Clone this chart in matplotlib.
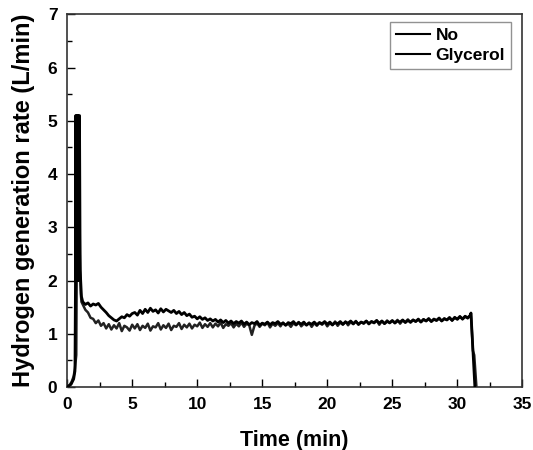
import matplotlib
matplotlib.use("Agg")
import matplotlib.pyplot as plt
from matplotlib.ticker import MultipleLocator

plt.rcParams['font.family'] = ['Liberation Sans', 'DejaVu Sans']

# ---- data ----
t_start_no = [0.0, 0.3, 0.5, 0.6, 0.64, 0.66, 0.70, 0.74, 0.78, 0.82, 0.86, 0.90, 0.95, 1.0, 1.1]
v_start_no = [0.0, 0.05, 0.15, 0.3, 2.0, 5.1, 2.0, 5.1, 2.0, 5.1, 2.0, 5.1, 5.1, 2.2, 1.7]
t_start_gly = [0.0, 0.2, 0.35, 0.5, 0.6, 0.7, 0.75, 0.8, 0.9, 0.98, 1.05, 1.1]
v_start_gly = [0.0, 0.04, 0.1, 0.2, 0.35, 0.6, 3.0, 5.0, 5.0, 2.5, 1.75, 1.6]

t_mid = [round(1.2 + 0.2 * i, 2) for i in range(150)]

v_mid_no = [
    1.60, 1.55, 1.58, 1.52, 1.56, 1.54, 1.57, 1.50, 1.45, 1.40,
    1.34, 1.30, 1.26, 1.24, 1.28, 1.32, 1.30, 1.36, 1.33, 1.38,
    1.40, 1.35, 1.44, 1.38, 1.46, 1.40, 1.48, 1.42, 1.45, 1.39,
    1.47, 1.41, 1.46, 1.43, 1.40, 1.44, 1.38, 1.42, 1.36, 1.40,
    1.34, 1.37, 1.31, 1.33, 1.28, 1.32, 1.27, 1.30, 1.25, 1.28,
    1.24, 1.27, 1.22, 1.26, 1.21, 1.25, 1.20, 1.24, 1.19, 1.23,
    1.20, 1.24, 1.18, 1.22, 1.17, 1.21, 1.19, 1.23, 1.16, 1.20,
    1.18, 1.22, 1.17, 1.21, 1.19, 1.23, 1.18, 1.20, 1.16, 1.21,
    1.19, 1.23, 1.17, 1.21, 1.18, 1.22, 1.16, 1.20, 1.18, 1.22,
    1.17, 1.21, 1.19, 1.23, 1.18, 1.22, 1.17, 1.21, 1.19, 1.23,
    1.18, 1.22, 1.20, 1.24, 1.19, 1.23, 1.18, 1.22, 1.20, 1.24,
    1.19, 1.23, 1.21, 1.25, 1.20, 1.24, 1.19, 1.23, 1.21, 1.25,
    1.20, 1.24, 1.22, 1.26, 1.21, 1.25, 1.22, 1.26, 1.23, 1.27,
    1.22, 1.27, 1.24, 1.28, 1.23, 1.27, 1.25, 1.29, 1.24, 1.28,
    1.26, 1.30, 1.25, 1.31, 1.27, 1.32, 1.28, 1.33, 1.30, 1.35,
]
v_mid_gly = [
    1.55, 1.45, 1.40, 1.30, 1.28, 1.20, 1.25, 1.15, 1.20, 1.10,
    1.18, 1.08, 1.16, 1.10, 1.20, 1.05, 1.15, 1.12, 1.06, 1.17,
    1.10, 1.18, 1.07, 1.15, 1.11, 1.19, 1.06, 1.14, 1.12, 1.20,
    1.08, 1.16, 1.11, 1.19, 1.07, 1.15, 1.13, 1.20, 1.09, 1.17,
    1.12, 1.19, 1.10, 1.17, 1.14, 1.21, 1.11, 1.18, 1.13, 1.20,
    1.12, 1.19, 1.14, 1.21, 1.11, 1.18, 1.15, 1.20, 1.12, 1.19,
    1.14, 1.21, 1.13, 1.19, 1.16, 0.98, 1.15, 1.20, 1.13, 1.19,
    1.16, 1.21, 1.12, 1.19, 1.15, 1.20, 1.14, 1.21, 1.16, 1.19,
    1.13, 1.20, 1.16, 1.22, 1.14, 1.19, 1.17, 1.21, 1.13, 1.20,
    1.15, 1.21, 1.17, 1.22, 1.14, 1.20, 1.16, 1.23, 1.15, 1.21,
    1.17, 1.23, 1.16, 1.22, 1.18, 1.24, 1.17, 1.22, 1.19, 1.24,
    1.18, 1.23, 1.20, 1.25, 1.17, 1.24, 1.19, 1.25, 1.20, 1.24,
    1.21, 1.26, 1.19, 1.25, 1.22, 1.27, 1.21, 1.26, 1.23, 1.28,
    1.22, 1.27, 1.24, 1.29, 1.23, 1.28, 1.25, 1.30, 1.24, 1.29,
    1.26, 1.31, 1.25, 1.30, 1.28, 1.33, 1.27, 1.32, 1.29, 1.34,
]

t_end_no = [31.05, 31.35]
v_end_no = [1.39, 0.0]
t_end_gly = [31.05, 31.2, 31.3, 31.47]
v_end_gly = [1.37, 0.68, 0.6, 0.0]

t_no = t_start_no + t_mid + t_end_no
v_no = v_start_no + v_mid_no + v_end_no
t_gly = t_start_gly + t_mid + t_end_gly
v_gly = v_start_gly + v_mid_gly + v_end_gly

labels = ["No", "Glycerol"]

fig = plt.figure(figsize=(5.33, 4.5), dpi=100)
ax = fig.add_axes([0.126, 0.14, 0.854, 0.828])

ax.plot(t_gly, v_gly, color='#222222', lw=1.8, label=labels[1], zorder=2)
ax.plot(t_no, v_no, color='black', lw=2.0, label=labels[0], zorder=3)

ax.set_xlim(0, 35)
ax.set_ylim(0, 7)
ax.xaxis.set_major_locator(MultipleLocator(5))
ax.xaxis.set_minor_locator(MultipleLocator(2.5))
ax.yaxis.set_major_locator(MultipleLocator(1))
ax.yaxis.set_minor_locator(MultipleLocator(0.5))
ax.tick_params(which='both', direction='in', top=False, right=False, pad=7)
ax.tick_params(which='major', length=6, width=1, labelsize=12.5)
ax.tick_params(which='minor', length=3.5, width=1)
for lab in ax.get_xticklabels() + ax.get_yticklabels():
    lab.set_fontweight('bold')
for s in ax.spines.values():
    s.set_linewidth(1.2)
    s.set_color('#333333')

ax.set_xlabel("Time (min)", fontsize=15.5, fontweight='bold', labelpad=13)
ax.set_ylabel("Hydrogen generation rate (L/min)", fontsize=17, fontweight='bold', labelpad=9)

handles, labs = ax.get_legend_handles_labels()
order = [1, 0]
leg = ax.legend([handles[i] for i in order], [labs[i] for i in order],
                loc='upper right', bbox_to_anchor=(0.983, 0.99), frameon=True,
                fancybox=False, prop={'weight': 'bold', 'size': 12.5},
                handlelength=2.0, borderpad=0.35, labelspacing=0.3,
                handletextpad=0.3, borderaxespad=0.2)
leg.get_frame().set_edgecolor('#777777')
leg.get_frame().set_linewidth(1.0)
for h in leg.get_lines():
    h.set_color('black')
    h.set_linewidth(1.5)

fig.savefig("out.png", dpi=100)
